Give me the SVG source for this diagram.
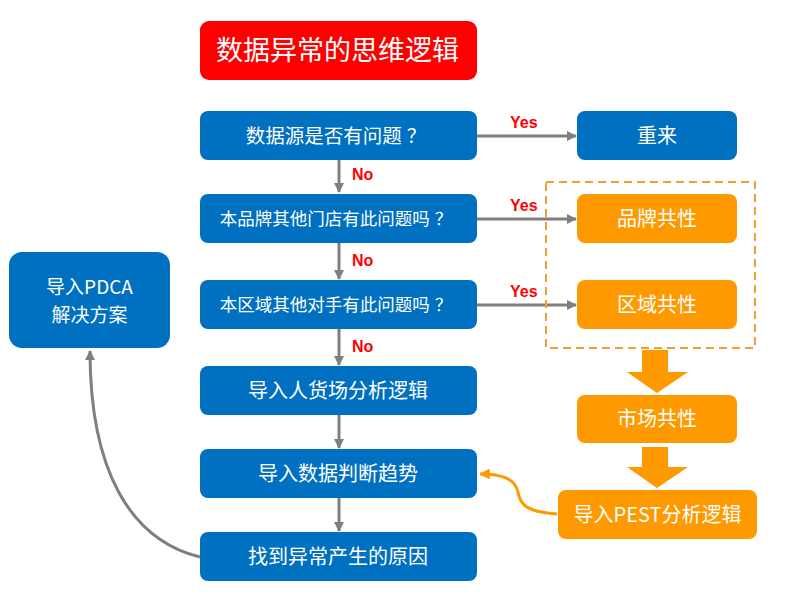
<svg xmlns="http://www.w3.org/2000/svg" width="796" height="597" viewBox="0 0 796 597">
<style>
.blue{fill:#0070C0}
.orange{fill:#FF9900}
.t{font-family:"Noto Sans CJK SC","Microsoft YaHei",sans-serif;fill:#FFFFFF;text-anchor:middle}
.lbl{font-family:"Liberation Sans",Arial,sans-serif;font-weight:bold;fill:#FF0000;font-size:16px}
.con{stroke:#7F7F7F;stroke-width:3;fill:none}
</style>
<defs>
<marker id="ag" viewBox="0 0 10 10" refX="9" refY="5" markerWidth="3.4" markerHeight="3.4" orient="auto" markerUnits="strokeWidth">
<path d="M0,0 L10,5 L0,10 z" fill="#7F7F7F"/>
</marker>
<marker id="ao" viewBox="0 0 10 10" refX="9" refY="5" markerWidth="3.6" markerHeight="3.6" orient="auto" markerUnits="strokeWidth">
<path d="M0,0 L10,5 L0,10 z" fill="#FF9900"/>
</marker>
</defs>
<rect width="796" height="597" fill="#FFFFFF"/>

<g id="title">
<rect x="200" y="21" width="277" height="59" rx="9" fill="#FF0000"/>
<text class="t" x="337.5" y="60" font-size="27">数据异常的思维逻辑</text>
</g>

<g id="connectors">
<line class="con" x1="477" y1="136" x2="576" y2="136" marker-end="url(#ag)"/>
<line class="con" x1="477" y1="219" x2="576" y2="219" marker-end="url(#ag)"/>
<line class="con" x1="477" y1="305" x2="576" y2="305" marker-end="url(#ag)"/>
<line class="con" x1="339" y1="160" x2="339" y2="192" marker-end="url(#ag)"/>
<line class="con" x1="339" y1="243" x2="339" y2="279" marker-end="url(#ag)"/>
<line class="con" x1="339" y1="329" x2="339" y2="365" marker-end="url(#ag)"/>
<line class="con" x1="339" y1="415" x2="339" y2="448" marker-end="url(#ag)"/>
<line class="con" x1="339" y1="498" x2="339" y2="531" marker-end="url(#ag)"/>
<path class="con" d="M200,557 C130,540 90,470 90,351" marker-end="url(#ag)"/>
<path d="M557,514 C527,512 520,505 518,492 C515,479 503,474 480,474" stroke="#FF9900" stroke-width="3" fill="none" marker-end="url(#ao)"/>
<rect x="546" y="182" width="209" height="166" fill="none" stroke="#F0A030" stroke-width="2" stroke-dasharray="8,5"/>
<polygon class="orange" points="642,350 668,350 668,372 688,372 657,393 627,372 642,372"/>
<polygon class="orange" points="642,447 668,447 668,467 688,467 657,488 627,467 642,467"/>
<text class="lbl" x="510" y="128" font-size="15px">Yes</text>
<text class="lbl" x="510" y="211" font-size="15px">Yes</text>
<text class="lbl" x="510" y="297" font-size="15px">Yes</text>
<text class="lbl" x="352" y="180">No</text>
<text class="lbl" x="352" y="266">No</text>
<text class="lbl" x="352" y="352">No</text>
</g>

<g id="n1">
<rect class="blue" x="200" y="111" width="277" height="49" rx="8"/>
<text class="t" x="336" y="143" font-size="19.5">数据源是否有问题<tspan dx="5">？</tspan></text>
</g>
<g id="n2">
<rect class="blue" x="200" y="194" width="277" height="49" rx="8"/>
<text class="t" x="336" y="225" font-size="17.5">本品牌其他门店有此问题吗<tspan dx="5">？</tspan></text>
</g>
<g id="n3">
<rect class="blue" x="200" y="280" width="277" height="49" rx="8"/>
<text class="t" x="336" y="311" font-size="17.5">本区域其他对手有此问题吗<tspan dx="5">？</tspan></text>
</g>
<g id="n4">
<rect class="blue" x="200" y="366" width="277" height="49" rx="8"/>
<text class="t" x="338" y="398" font-size="20">导入人货场分析逻辑</text>
</g>
<g id="n5">
<rect class="blue" x="200" y="449" width="277" height="49" rx="8"/>
<text class="t" x="338" y="481" font-size="20">导入数据判断趋势</text>
</g>
<g id="n6">
<rect class="blue" x="200" y="532" width="277" height="49" rx="8"/>
<text class="t" x="338" y="564" font-size="20">找到异常产生的原因</text>
</g>
<g id="n-restart">
<rect class="blue" x="577" y="111" width="160" height="49" rx="8"/>
<text class="t" x="657" y="143" font-size="20">重来</text>
</g>
<g id="n-brand">
<rect class="orange" x="577" y="194" width="160" height="49" rx="8"/>
<text class="t" x="657" y="226" font-size="20">品牌共性</text>
</g>
<g id="n-region">
<rect class="orange" x="577" y="280" width="160" height="49" rx="8"/>
<text class="t" x="657" y="312" font-size="20">区域共性</text>
</g>
<g id="n-market">
<rect class="orange" x="577" y="395" width="160" height="48" rx="8"/>
<text class="t" x="657" y="426" font-size="20">市场共性</text>
</g>
<g id="n-pest">
<rect class="orange" x="558" y="490" width="199" height="49" rx="8"/>
<text class="t" x="657.5" y="522" font-size="20">导入PEST分析逻辑</text>
</g>
<g id="n-pdca">
<rect class="blue" x="9" y="252" width="161" height="96" rx="13"/>
<text class="t" x="89.5" y="294" font-size="19">导入PDCA</text>
<text class="t" x="89.5" y="322" font-size="19">解决方案</text>
</g>
</svg>
